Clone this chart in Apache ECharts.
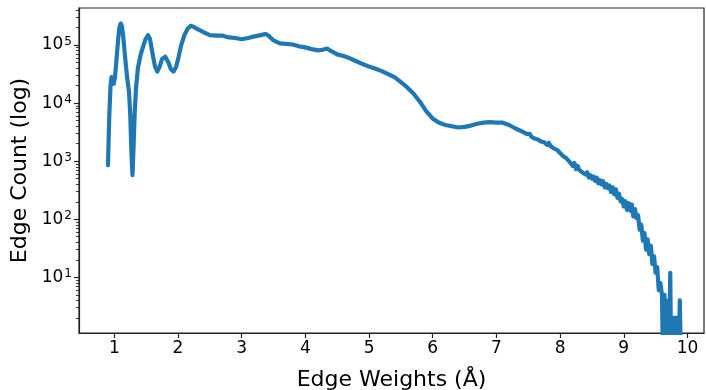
<!DOCTYPE html>
<html>
<head>
<meta charset="utf-8">
<script src="https://cdn.jsdelivr.net/npm/echarts@6/dist/echarts.min.js"></script>
<style>html,body{margin:0;padding:0;background:#fff}#c{width:706px;height:390px}</style>
</head>
<body>
<div id="c"></div>
<script>
// Edge weight (Å)
const weights = [
  0.90, 0.92, 0.94, 0.955, 0.97, 0.99, 1.01, 1.03, 1.06, 1.08, 1.10, 1.12, 1.14, 1.17, 1.20, 1.23, 1.25, 1.27, 1.285, 1.30,
  1.32, 1.34, 1.37, 1.41, 1.45, 1.49, 1.53, 1.56, 1.60, 1.64, 1.675, 1.71, 1.75, 1.80, 1.85, 1.89, 1.93, 1.97, 2.01, 2.05,
  2.10, 2.15, 2.20, 2.25, 2.30, 2.40, 2.50, 2.60, 2.70, 2.80, 2.90, 3.00, 3.10, 3.20, 3.30, 3.37, 3.42, 3.50, 3.60, 3.70,
  3.80, 3.90, 4.00, 4.10, 4.20, 4.27, 4.34, 4.40, 4.50, 4.60, 4.70, 4.80, 4.90, 5.00, 5.10, 5.20, 5.30, 5.40, 5.50, 5.60,
  5.70, 5.80, 5.90, 6.00, 6.10, 6.20, 6.30, 6.40, 6.50, 6.60, 6.70, 6.80, 6.90, 7.00, 7.10, 7.20, 7.30, 7.40, 7.475,
  7.500, 7.525, 7.550, 7.575, 7.600, 7.625, 7.650, 7.675, 7.700, 7.725, 7.750, 7.775, 7.800, 7.825, 7.850, 7.875,
  7.900, 7.925, 7.950, 7.975, 8.000, 8.025, 8.050, 8.075, 8.100, 8.125, 8.150, 8.175, 8.200, 8.225, 8.250, 8.275,
  8.300, 8.325, 8.350, 8.375, 8.400, 8.425, 8.450, 8.475, 8.500, 8.525, 8.550, 8.575, 8.600, 8.625, 8.650, 8.675,
  8.700, 8.725, 8.750, 8.775, 8.800, 8.825, 8.850, 8.875, 8.900, 8.925, 8.950, 8.975, 9.000, 9.025, 9.050, 9.075,
  9.100, 9.125, 9.150, 9.175, 9.200, 9.225, 9.250, 9.275, 9.300, 9.325, 9.350, 9.375, 9.400, 9.425, 9.450, 9.475,
  9.500, 9.525, 9.550, 9.575, 9.600,
  9.61, 9.62, 9.63, 9.64, 9.65, 9.66, 9.67, 9.68, 9.69, 9.70, 9.71, 9.72, 9.73, 9.74, 9.75, 9.76, 9.77, 9.78, 9.79, 9.80,
  9.81, 9.82, 9.83, 9.84, 9.85, 9.86, 9.87, 9.88, 9.89, 9.90
];
// Edge count
const counts = [
  850, 5750, 2.0e4, 2.8e4, 2.8e4, 2.15e4, 2.8e4, 5.0e4, 1.26e5, 2.0e5, 2.35e5, 2.1e5, 1.4e5, 6.0e4, 2.8e4, 1.6e4, 6300, 1260, 575, 1580,
  7000, 1.78e4, 4.0e4, 6.6e4, 9.3e4, 1.26e5, 1.48e5, 1.26e5, 7.1e4, 4.2e4, 3.5e4, 4.2e4, 5.75e4, 6.3e4, 5.0e4, 3.8e4, 3.5e4, 4.2e4, 6.3e4, 1.0e5,
  1.48e5, 1.9e5, 2.14e5, 2.04e5, 1.9e5, 1.66e5, 1.48e5, 1.45e5, 1.45e5, 1.35e5, 1.32e5, 1.26e5, 1.32e5, 1.41e5, 1.48e5, 1.55e5, 1.45e5, 1.2e5, 1.07e5, 1.05e5,
  1.02e5, 9.5e4, 9.1e4, 8.5e4, 8.1e4, 8.3e4, 8.7e4, 7.9e4, 6.9e4, 6.45e4, 5.9e4, 5.25e4, 4.7e4, 4.25e4, 3.9e4, 3.55e4, 3.16e4, 2.8e4, 2.3e4, 1.86e4,
  1.45e4, 1.05e4, 7200, 5400, 4600, 4200, 4000, 3800, 3900, 4100, 4400, 4600, 4700, 4600, 4600, 4200, 3650, 3250, 2950,
  2880, 2950, 2630, 2690, 2450, 2630, 2370, 2400, 2190, 2290, 2110, 2140, 1900, 2070, 1820, 1880,
  1660, 1780, 1570, 1580, 1380, 1410, 1220, 1290, 1120, 1170, 970, 1020, 830, 930, 730, 830,
  710, 760, 640, 690, 590, 645, 525, 575, 500, 545, 457, 520, 417, 473, 398, 452,
  355, 407, 343, 380, 295, 355, 269, 327, 234, 275, 204, 224, 166, 204, 145, 190,
  141, 180, 112, 150, 105, 117, 66, 81, 43, 58, 30, 45, 25, 35, 17, 23,
  12, 15, 6, 8, 5,
  1, 4, 1, 5, 1, 4, 1, 3, 1, 4, 1, 2, 12, 1, 2, 1, 2, 1, 2, 1,
  2, 1, 2, 1, 1, 2, 1, 4, 1, 1
];
const xTicks = [1, 2, 3, 4, 5, 6, 7, 8, 9, 10];
const yTicks = [10, 100, 1000, 10000, 100000];
const yMinorTicks = [];
[1, 10, 100, 1000, 10000, 100000].forEach(d => { for (let m = 2; m <= 9; m++) yMinorTicks.push(m * d); });

const FONT = 'DejaVu Sans';
const data = weights.map((w, i) => [w, counts[i]]);
const chart = echarts.init(document.getElementById('c'), null, { renderer: 'canvas' });
chart.setOption({
  animation: false,
  backgroundColor: '#fff',
  grid: {
    left: 79, top: 8, right: 2, bottom: 57, outerBoundsMode: 'none', containLabel: false,
    show: true, borderColor: '#222', borderWidth: 1.2, backgroundColor: 'transparent'
  },
  xAxis: {
    type: 'value', min: 0.445, max: 10.26,
    name: 'Edge Weights (Å)', nameLocation: 'middle', nameGap: 36,
    nameTextStyle: { fontSize: 22, color: '#000', fontFamily: FONT },
    axisLine: { lineStyle: { color: '#222', width: 1.2 } },
    axisTick: { customValues: xTicks, length: 5, lineStyle: { color: '#222', width: 1.2 } },
    axisLabel: { customValues: xTicks, fontSize: 17, color: '#000', margin: 7, fontFamily: FONT },
    splitLine: { show: false }
  },
  yAxis: [{
    type: 'log', logBase: 10, min: 1.1, max: 434000,
    name: 'Edge Count (log)', nameLocation: 'middle', nameGap: 45,
    nameTextStyle: { fontSize: 22, color: '#000', fontFamily: FONT },
    axisLine: { show: true, lineStyle: { color: '#222', width: 1.2 } },
    axisTick: { customValues: yTicks, length: 5, lineStyle: { color: '#222', width: 1.2 } },
    axisLabel: {
      customValues: yTicks, color: '#000', margin: 7, fontSize: 17, fontFamily: FONT,
      formatter: v => '10{e|' + Math.round(Math.log10(v)) + '}',
      rich: { e: { fontSize: 12, verticalAlign: 'top', color: '#000', fontFamily: FONT, padding: [0, 0, 6, 1] } }
    },
    splitLine: { show: false }
  }, {
    type: 'log', logBase: 10, min: 1.1, max: 434000, position: 'left',
    axisLine: { show: false },
    axisTick: { customValues: yMinorTicks, length: 3, lineStyle: { color: '#222', width: 0.9 } },
    axisLabel: { show: false },
    splitLine: { show: false }
  }],
  series: [{
    type: 'line', data: data, yAxisIndex: 0, showSymbol: false, symbol: 'none', clip: true,
    lineStyle: { color: '#1f77b4', width: 4.2, join: 'round', cap: 'round' }
  }]
});
</script>
</body>
</html>
